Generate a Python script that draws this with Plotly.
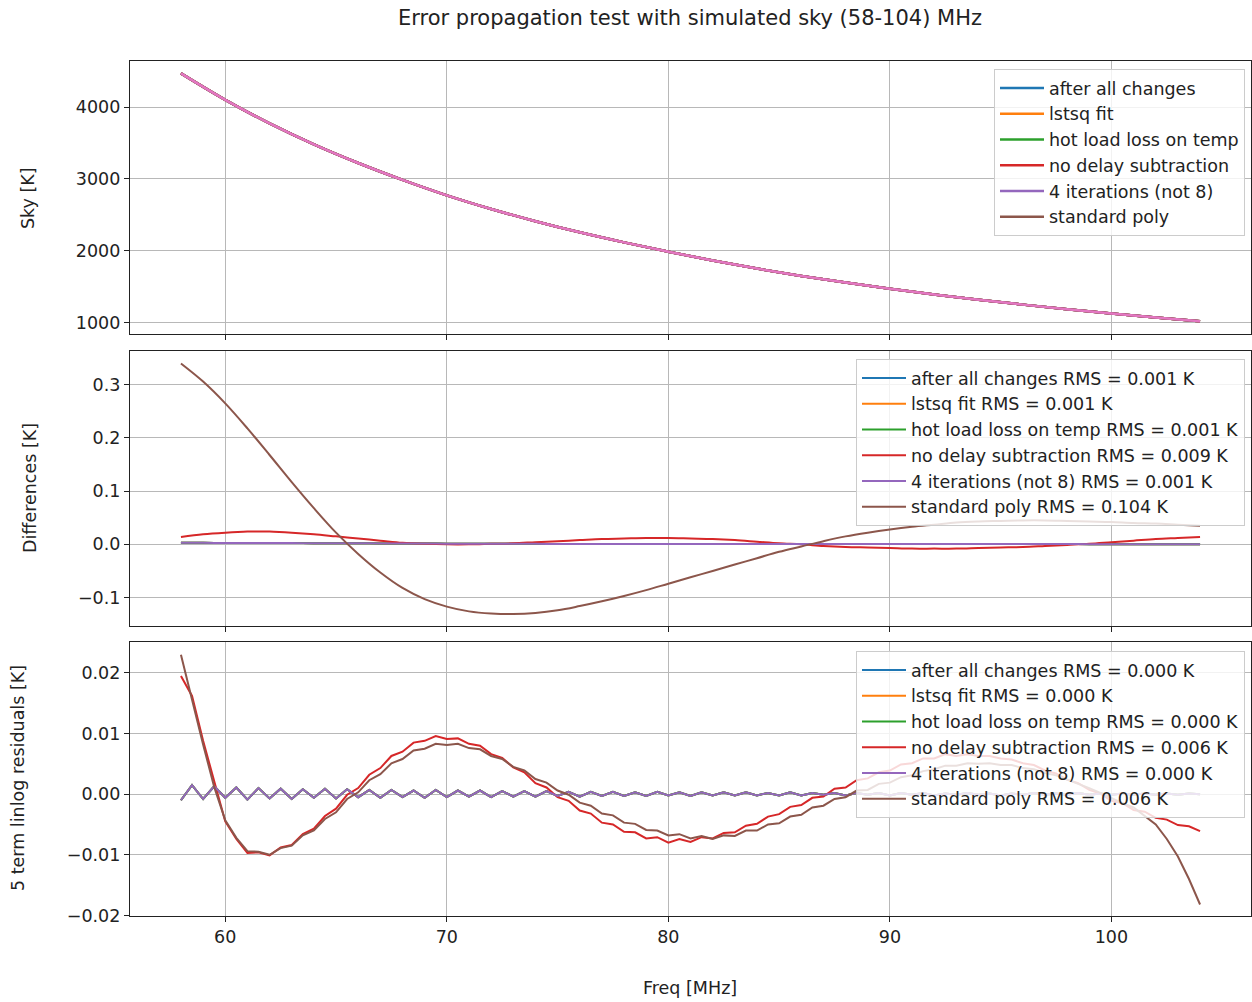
import numpy as np
import plotly.graph_objects as go
from plotly.subplots import make_subplots

# ---- frequency grids [MHz] ----
freq_sky = np.arange(58, 105, 2)          # 2 MHz steps
freq = np.arange(58, 105, 1)              # 1 MHz steps
freq_fine = np.arange(58, 104.01, 0.5)    # 0.5 MHz steps

# ---- sky temperature [K] ----
sky = [4468, 4100, 3772, 3480, 3220, 2985, 2770, 2580, 2410, 2255, 2115, 1985,
       1862, 1750, 1648, 1555, 1470, 1390, 1316, 1248, 1184, 1124, 1068, 1015]

# ---- differences [K] ----
diff_small = [0.0030, 0.0028, 0.0027, 0.0026, 0.0025, 0.0024, 0.0022, 0.0021, 0.0019, 0.0018,
              0.0016, 0.0015, 0.0013, 0.0012, 0.0011, 0.0010, 0.0009, 0.0008, 0.0007, 0.0007,
              0.0006, 0.0006, 0.0005, 0.0005, 0.0005, 0.0005, 0.0005, 0.0005, 0.0005, 0.0005,
              0.0005, 0.0005, 0.0005, 0.0005, 0.0005, 0.0005, 0.0005, 0.0005, 0.0005, 0.0005,
              0.0005, 0.0004, 0.0004, 0.0004, 0.0004, 0.0004, 0.0004]
diff_no_delay = [0.014, 0.019, 0.022, 0.024, 0.024, 0.022, 0.019, 0.015, 0.011, 0.007,
                 0.003, 0.001, 0.000, 0.000, 0.001, 0.002, 0.004, 0.006, 0.008, 0.010,
                 0.011, 0.012, 0.012, 0.011, 0.010, 0.008, 0.005, 0.002, 0.000, -0.003,
                 -0.005, -0.006, -0.007, -0.008, -0.008, -0.008, -0.007, -0.006, -0.005, -0.003,
                 -0.001, 0.001, 0.004, 0.007, 0.010, 0.012, 0.014]
diff_std_poly = [0.340, 0.306, 0.265, 0.218, 0.168, 0.117, 0.068, 0.022, -0.018, -0.053,
                 -0.082, -0.103, -0.117, -0.126, -0.130, -0.131, -0.129, -0.124, -0.116, -0.107,
                 -0.097, -0.086, -0.074, -0.062, -0.050, -0.038, -0.026, -0.014, -0.004, 0.006,
                 0.015, 0.022, 0.028, 0.033, 0.037, 0.041, 0.043, 0.044, 0.045, 0.045,
                 0.044, 0.043, 0.042, 0.040, 0.039, 0.037, 0.035]

# ---- 5 term linlog residuals [K] ----
res_small = [-0.0010, 0.0015, -0.0008, 0.0013, -0.0006, 0.0011, -0.0009, 0.0010, -0.0007, 0.0009,
             -0.0008, 0.0008, -0.0006, 0.0009, -0.0007, 0.0008, -0.0005, 0.0007, -0.0006, 0.0007,
             -0.0005, 0.0006, -0.0006, 0.0007, -0.0005, 0.0006, -0.0004, 0.0006, -0.0005, 0.0005,
             -0.0004, 0.0005, -0.0004, 0.0005, -0.0003, 0.0004, -0.0004, 0.0004, -0.0003, 0.0004,
             -0.0003, 0.0003, -0.0003, 0.0004, -0.0002, 0.0003, -0.0003, 0.0003, -0.0002, 0.0003,
             -0.0002, 0.0003, -0.0002, 0.0002, -0.0002, 0.0003, -0.0002, 0.0002, -0.0001, 0.0002,
             -0.0002, 0.0002, -0.0001, 0.0002, -0.0002, 0.0002, -0.0001, 0.0002, -0.0002, 0.0001,
             -0.0001, 0.0002, -0.0001, 0.0001, -0.0002, 0.0001, -0.0001, 0.0002, -0.0001, 0.0001,
             -0.0001, 0.0002, -0.0001, 0.0001, -0.0001, 0.0001, -0.0001, 0.0001, -0.0001, 0.0001,
             -0.0001, 0.0001, 0.0000]
res_no_delay = [0.0195, 0.0162, 0.0088, 0.0020, -0.0045, -0.0074, -0.0097, -0.0096, -0.0101, -0.0088,
                -0.0084, -0.0066, -0.0057, -0.0036, -0.0024, -0.0001, 0.0010, 0.0032, 0.0043, 0.0063,
                0.0070, 0.0085, 0.0088, 0.0096, 0.0091, 0.0092, 0.0083, 0.0080, 0.0066, 0.0060,
                0.0044, 0.0036, 0.0018, 0.0011, -0.0005, -0.0011, -0.0027, -0.0032, -0.0047, -0.0050,
                -0.0062, -0.0063, -0.0073, -0.0071, -0.0080, -0.0074, -0.0079, -0.0071, -0.0073, -0.0064,
                -0.0063, -0.0052, -0.0049, -0.0037, -0.0033, -0.0021, -0.0018, -0.0006, -0.0004, 0.0009,
                0.0011, 0.0023, 0.0026, 0.0036, 0.0039, 0.0049, 0.0051, 0.0059, 0.0059, 0.0066,
                0.0063, 0.0066, 0.0063, 0.0063, 0.0059, 0.0057, 0.0051, 0.0048, 0.0039, 0.0034,
                0.0024, 0.0018, 0.0007, 0.0001, -0.0011, -0.0015, -0.0026, -0.0029, -0.0039, -0.0042,
                -0.0051, -0.0053, -0.0061]
res_std_poly = [0.0230, 0.0155, 0.0082, 0.0012, -0.0043, -0.0072, -0.0094, -0.0095, -0.0100, -0.0089,
                -0.0085, -0.0068, -0.0060, -0.0041, -0.0030, -0.0008, 0.0003, 0.0023, 0.0033, 0.0051,
                0.0058, 0.0072, 0.0075, 0.0083, 0.0081, 0.0083, 0.0076, 0.0074, 0.0063, 0.0058,
                0.0045, 0.0039, 0.0025, 0.0019, 0.0006, -0.0001, -0.0014, -0.0019, -0.0032, -0.0035,
                -0.0047, -0.0049, -0.0059, -0.0060, -0.0068, -0.0066, -0.0073, -0.0069, -0.0074, -0.0068,
                -0.0069, -0.0060, -0.0060, -0.0050, -0.0048, -0.0037, -0.0034, -0.0022, -0.0019, -0.0008,
                -0.0005, 0.0006, 0.0007, 0.0017, 0.0019, 0.0028, 0.0031, 0.0038, 0.0041, 0.0047,
                0.0047, 0.0051, 0.0050, 0.0051, 0.0048, 0.0048, 0.0043, 0.0041, 0.0035, 0.0031,
                0.0024, 0.0018, 0.0010, 0.0002, -0.0007, -0.0015, -0.0022, -0.0036, -0.0050, -0.0074,
                -0.0103, -0.0140, -0.0182]

names = ["after all changes", "lstsq fit", "hot load loss on temp",
         "no delay subtraction", "4 iterations (not 8)", "standard poly"]
rms_diff = ["0.001", "0.001", "0.001", "0.009", "0.001", "0.104"]
rms_res = ["0.000", "0.000", "0.000", "0.006", "0.000", "0.006"]
colors = ["#1f77b4", "#ff7f0e", "#2ca02c", "#d62728", "#9467bd", "#8c564b"]
sky_color = "#e377c2"

diff_series = [diff_small, diff_small, diff_small, diff_no_delay, diff_small, diff_std_poly]
res_series = [res_small, res_small, res_small, res_no_delay, res_small, res_std_poly]

FONT = "DejaVu Sans"
FS = 17.5
INK = "#222"
W, H = 1252, 1002
L, R, T, B = 130, 1251, 61, 916  # plot area in pixels


def px_x(p):
    return (p - L) / (R - L)


def px_y(p):
    return (B - p) / (B - T)


fig = make_subplots(rows=3, cols=1, shared_xaxes=True, vertical_spacing=0.02)

# top: sky
for i, name in enumerate(names):
    fig.add_trace(go.Scatter(x=freq_sky, y=sky, mode="lines", name=name,
                             line=dict(color=colors[i], width=2.5, shape="spline"),
                             legend="legend"), row=1, col=1)
fig.add_trace(go.Scatter(x=freq_sky, y=sky, mode="lines", name="simulated sky",
                         line=dict(color=sky_color, width=2.5, shape="spline"),
                         showlegend=False), row=1, col=1)

# middle: differences
for i in range(6):
    fig.add_trace(go.Scatter(x=freq, y=diff_series[i], mode="lines",
                             name=f"{names[i]} RMS = {rms_diff[i]} K",
                             line=dict(color=colors[i], width=2, shape="spline"),
                             legend="legend2"), row=2, col=1)

# bottom: residuals
for i in range(6):
    fig.add_trace(go.Scatter(x=freq_fine, y=res_series[i], mode="lines",
                             name=f"{names[i]} RMS = {rms_res[i]} K",
                             line=dict(color=colors[i], width=2),
                             legend="legend3"), row=3, col=1)

axis_common = dict(showline=True, mirror=True, linecolor=INK, linewidth=1.2,
                   ticks="outside", ticklen=5, tickwidth=1.1, tickcolor=INK,
                   showgrid=True, gridcolor="#b8b8b8", gridwidth=1, zeroline=False,
                   tickfont=dict(family=FONT, size=FS, color=INK))

xr = [55.7, 106.3]
xt = [60, 70, 80, 90, 100]
fig.update_layout(
    xaxis=dict(**axis_common, range=xr, tickvals=xt, showticklabels=False, domain=[0, 1]),
    xaxis2=dict(**axis_common, range=xr, tickvals=xt, showticklabels=False, domain=[0, 1]),
    xaxis3=dict(**axis_common, range=xr, tickvals=xt, domain=[0, 1]),
    yaxis=dict(**axis_common, range=[839, 4641], tickvals=[1000, 2000, 3000, 4000],
               domain=[px_y(334), px_y(61)]),
    yaxis2=dict(**axis_common, range=[-0.1535, 0.3635], dtick=0.1, tickformat=".1f",
                domain=[px_y(626), px_y(351)]),
    yaxis3=dict(**axis_common, range=[-0.0201, 0.0251], dtick=0.01, tickformat=".2f",
                domain=[px_y(916), px_y(642)]),
)

legend_common = dict(bgcolor="rgba(255,255,255,0.82)", bordercolor="#cccccc", borderwidth=1,
                     font=dict(family=FONT, size=FS, color=INK), xanchor="right",
                     yanchor="top", itemwidth=44, tracegroupgap=0)
fig.update_layout(
    legend=dict(**legend_common, x=px_x(1245), y=px_y(69)),
    legend2=dict(**legend_common, x=px_x(1245), y=px_y(359)),
    legend3=dict(**legend_common, x=px_x(1245), y=px_y(651)),
)

annotations = [
    dict(text="Error propagation test with simulated sky (58-104) MHz", x=px_x(690), y=px_y(18),
         font=dict(family=FONT, size=21, color=INK)),
    dict(text="Freq [MHz]", x=px_x(690), y=px_y(988), font=dict(family=FONT, size=FS, color=INK)),
    dict(text="Sky [K]", x=px_x(28), y=px_y(198), textangle=-90,
         font=dict(family=FONT, size=FS, color=INK)),
    dict(text="Differences [K]", x=px_x(30), y=px_y(488), textangle=-90,
         font=dict(family=FONT, size=FS, color=INK)),
    dict(text="5 term linlog residuals [K]", x=px_x(18), y=px_y(778), textangle=-90,
         font=dict(family=FONT, size=FS, color=INK)),
]
for a in annotations:
    a.update(xref="paper", yref="paper", showarrow=False, xanchor="center", yanchor="middle")

fig.update_layout(
    width=W, height=H, autosize=False,
    margin=dict(l=L, r=W - R, t=T, b=H - B),
    paper_bgcolor="white", plot_bgcolor="white",
    font=dict(family=FONT, color=INK),
    annotations=annotations,
    showlegend=True,
)

fig.write_html("out.html")
